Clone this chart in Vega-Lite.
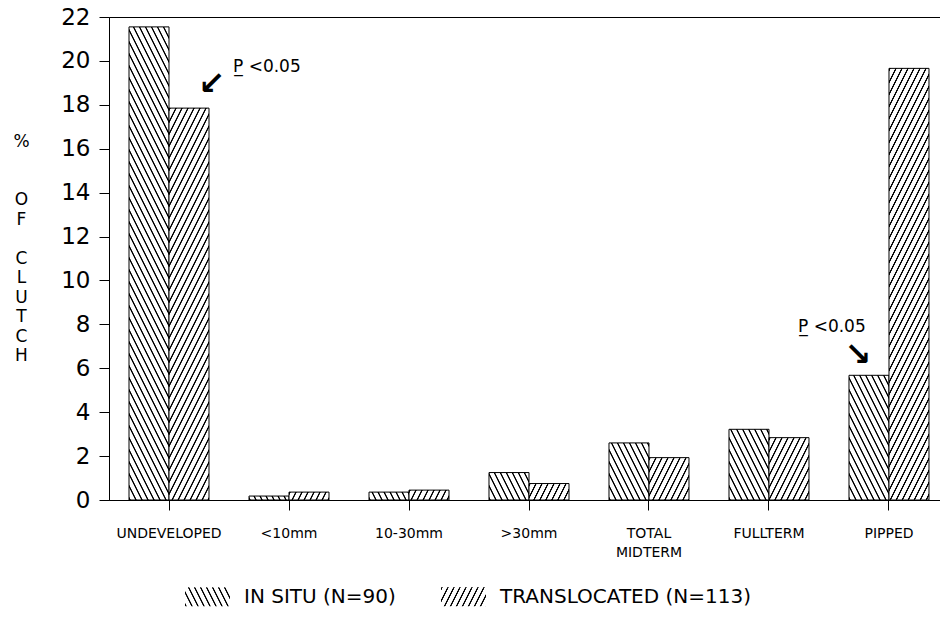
{
  "$schema": "https://vega.github.io/schema/vega-lite/v6.json",
  "width": 840,
  "height": 483,
  "autosize": "none",
  "padding": {"left": 109, "top": 17, "right": 0, "bottom": 124},
  "background": "white",
  "config": {
    "view": {"stroke": "black", "strokeWidth": 1},
    "font": "DejaVu Sans",
    "text": {"font": "DejaVu Sans", "color": "black"}
  },
  "params": [
    {
      "name": "hatch",
      "value": [
        {"offset":0,"color":"#fff"},{"offset":0.002,"color":"#000"},{"offset":0.005,"color":"#000"},{"offset":0.007,"color":"#fff"},
        {"offset":0.02,"color":"#fff"},{"offset":0.022,"color":"#000"},{"offset":0.025,"color":"#000"},{"offset":0.027,"color":"#fff"},
        {"offset":0.04,"color":"#fff"},{"offset":0.042,"color":"#000"},{"offset":0.045,"color":"#000"},{"offset":0.047,"color":"#fff"},
        {"offset":0.06,"color":"#fff"},{"offset":0.062,"color":"#000"},{"offset":0.065,"color":"#000"},{"offset":0.067,"color":"#fff"},
        {"offset":0.08,"color":"#fff"},{"offset":0.082,"color":"#000"},{"offset":0.085,"color":"#000"},{"offset":0.087,"color":"#fff"},
        {"offset":0.1,"color":"#fff"},{"offset":0.102,"color":"#000"},{"offset":0.105,"color":"#000"},{"offset":0.107,"color":"#fff"},
        {"offset":0.12,"color":"#fff"},{"offset":0.122,"color":"#000"},{"offset":0.125,"color":"#000"},{"offset":0.127,"color":"#fff"},
        {"offset":0.14,"color":"#fff"},{"offset":0.142,"color":"#000"},{"offset":0.145,"color":"#000"},{"offset":0.147,"color":"#fff"},
        {"offset":0.16,"color":"#fff"},{"offset":0.162,"color":"#000"},{"offset":0.165,"color":"#000"},{"offset":0.167,"color":"#fff"},
        {"offset":0.18,"color":"#fff"},{"offset":0.182,"color":"#000"},{"offset":0.185,"color":"#000"},{"offset":0.187,"color":"#fff"},
        {"offset":0.2,"color":"#fff"},{"offset":0.202,"color":"#000"},{"offset":0.205,"color":"#000"},{"offset":0.207,"color":"#fff"},
        {"offset":0.22,"color":"#fff"},{"offset":0.222,"color":"#000"},{"offset":0.225,"color":"#000"},{"offset":0.227,"color":"#fff"},
        {"offset":0.24,"color":"#fff"},{"offset":0.242,"color":"#000"},{"offset":0.245,"color":"#000"},{"offset":0.247,"color":"#fff"},
        {"offset":0.26,"color":"#fff"},{"offset":0.262,"color":"#000"},{"offset":0.265,"color":"#000"},{"offset":0.267,"color":"#fff"},
        {"offset":0.28,"color":"#fff"},{"offset":0.282,"color":"#000"},{"offset":0.285,"color":"#000"},{"offset":0.287,"color":"#fff"},
        {"offset":0.3,"color":"#fff"},{"offset":0.302,"color":"#000"},{"offset":0.305,"color":"#000"},{"offset":0.307,"color":"#fff"},
        {"offset":0.32,"color":"#fff"},{"offset":0.322,"color":"#000"},{"offset":0.325,"color":"#000"},{"offset":0.327,"color":"#fff"},
        {"offset":0.34,"color":"#fff"},{"offset":0.342,"color":"#000"},{"offset":0.345,"color":"#000"},{"offset":0.347,"color":"#fff"},
        {"offset":0.36,"color":"#fff"},{"offset":0.362,"color":"#000"},{"offset":0.365,"color":"#000"},{"offset":0.367,"color":"#fff"},
        {"offset":0.38,"color":"#fff"},{"offset":0.382,"color":"#000"},{"offset":0.385,"color":"#000"},{"offset":0.387,"color":"#fff"},
        {"offset":0.4,"color":"#fff"},{"offset":0.402,"color":"#000"},{"offset":0.405,"color":"#000"},{"offset":0.407,"color":"#fff"},
        {"offset":0.42,"color":"#fff"},{"offset":0.422,"color":"#000"},{"offset":0.425,"color":"#000"},{"offset":0.427,"color":"#fff"},
        {"offset":0.44,"color":"#fff"},{"offset":0.442,"color":"#000"},{"offset":0.445,"color":"#000"},{"offset":0.447,"color":"#fff"},
        {"offset":0.46,"color":"#fff"},{"offset":0.462,"color":"#000"},{"offset":0.465,"color":"#000"},{"offset":0.467,"color":"#fff"},
        {"offset":0.48,"color":"#fff"},{"offset":0.482,"color":"#000"},{"offset":0.485,"color":"#000"},{"offset":0.487,"color":"#fff"},
        {"offset":0.5,"color":"#fff"},{"offset":0.502,"color":"#000"},{"offset":0.505,"color":"#000"},{"offset":0.507,"color":"#fff"},
        {"offset":0.52,"color":"#fff"},{"offset":0.522,"color":"#000"},{"offset":0.525,"color":"#000"},{"offset":0.527,"color":"#fff"},
        {"offset":0.54,"color":"#fff"},{"offset":0.542,"color":"#000"},{"offset":0.545,"color":"#000"},{"offset":0.547,"color":"#fff"},
        {"offset":0.56,"color":"#fff"},{"offset":0.562,"color":"#000"},{"offset":0.565,"color":"#000"},{"offset":0.567,"color":"#fff"},
        {"offset":0.58,"color":"#fff"},{"offset":0.582,"color":"#000"},{"offset":0.585,"color":"#000"},{"offset":0.587,"color":"#fff"},
        {"offset":0.6,"color":"#fff"},{"offset":0.602,"color":"#000"},{"offset":0.605,"color":"#000"},{"offset":0.607,"color":"#fff"},
        {"offset":0.62,"color":"#fff"},{"offset":0.622,"color":"#000"},{"offset":0.625,"color":"#000"},{"offset":0.627,"color":"#fff"},
        {"offset":0.64,"color":"#fff"},{"offset":0.642,"color":"#000"},{"offset":0.645,"color":"#000"},{"offset":0.647,"color":"#fff"},
        {"offset":0.66,"color":"#fff"},{"offset":0.662,"color":"#000"},{"offset":0.665,"color":"#000"},{"offset":0.667,"color":"#fff"},
        {"offset":0.68,"color":"#fff"},{"offset":0.682,"color":"#000"},{"offset":0.685,"color":"#000"},{"offset":0.687,"color":"#fff"},
        {"offset":0.7,"color":"#fff"},{"offset":0.702,"color":"#000"},{"offset":0.705,"color":"#000"},{"offset":0.707,"color":"#fff"},
        {"offset":0.72,"color":"#fff"},{"offset":0.722,"color":"#000"},{"offset":0.725,"color":"#000"},{"offset":0.727,"color":"#fff"},
        {"offset":0.74,"color":"#fff"},{"offset":0.742,"color":"#000"},{"offset":0.745,"color":"#000"},{"offset":0.747,"color":"#fff"},
        {"offset":0.76,"color":"#fff"},{"offset":0.762,"color":"#000"},{"offset":0.765,"color":"#000"},{"offset":0.767,"color":"#fff"},
        {"offset":0.78,"color":"#fff"},{"offset":0.782,"color":"#000"},{"offset":0.785,"color":"#000"},{"offset":0.787,"color":"#fff"},
        {"offset":0.8,"color":"#fff"},{"offset":0.802,"color":"#000"},{"offset":0.805,"color":"#000"},{"offset":0.807,"color":"#fff"},
        {"offset":0.82,"color":"#fff"},{"offset":0.822,"color":"#000"},{"offset":0.825,"color":"#000"},{"offset":0.827,"color":"#fff"},
        {"offset":0.84,"color":"#fff"},{"offset":0.842,"color":"#000"},{"offset":0.845,"color":"#000"},{"offset":0.847,"color":"#fff"},
        {"offset":0.86,"color":"#fff"},{"offset":0.862,"color":"#000"},{"offset":0.865,"color":"#000"},{"offset":0.867,"color":"#fff"},
        {"offset":0.88,"color":"#fff"},{"offset":0.882,"color":"#000"},{"offset":0.885,"color":"#000"},{"offset":0.887,"color":"#fff"},
        {"offset":0.9,"color":"#fff"},{"offset":0.902,"color":"#000"},{"offset":0.905,"color":"#000"},{"offset":0.907,"color":"#fff"},
        {"offset":0.92,"color":"#fff"},{"offset":0.922,"color":"#000"},{"offset":0.925,"color":"#000"},{"offset":0.927,"color":"#fff"},
        {"offset":0.94,"color":"#fff"},{"offset":0.942,"color":"#000"},{"offset":0.945,"color":"#000"},{"offset":0.947,"color":"#fff"}
      ]
    }
  ],
  "layer": [
    {
      "data": {
        "values": [
          {"stage": "UNDEVELOPED", "series": "IN SITU (N=90)", "pct": 21.55},
          {"stage": "UNDEVELOPED", "series": "TRANSLOCATED (N=113)", "pct": 17.85},
          {"stage": "<10mm", "series": "IN SITU (N=90)", "pct": 0.18},
          {"stage": "<10mm", "series": "TRANSLOCATED (N=113)", "pct": 0.36},
          {"stage": "10-30mm", "series": "IN SITU (N=90)", "pct": 0.36},
          {"stage": "10-30mm", "series": "TRANSLOCATED (N=113)", "pct": 0.45},
          {"stage": ">30mm", "series": "IN SITU (N=90)", "pct": 1.25},
          {"stage": ">30mm", "series": "TRANSLOCATED (N=113)", "pct": 0.75},
          {"stage": "TOTAL MIDTERM", "series": "IN SITU (N=90)", "pct": 2.6},
          {"stage": "TOTAL MIDTERM", "series": "TRANSLOCATED (N=113)", "pct": 1.93},
          {"stage": "FULLTERM", "series": "IN SITU (N=90)", "pct": 3.22},
          {"stage": "FULLTERM", "series": "TRANSLOCATED (N=113)", "pct": 2.84},
          {"stage": "PIPPED", "series": "IN SITU (N=90)", "pct": 5.68},
          {"stage": "PIPPED", "series": "TRANSLOCATED (N=113)", "pct": 19.66}
        ]
      },
      "mark": {"type": "bar", "strokeWidth": 1},
      "encoding": {
        "x": {
          "field": "stage",
          "type": "nominal",
          "sort": ["UNDEVELOPED", "<10mm", "10-30mm", ">30mm", "TOTAL MIDTERM", "FULLTERM", "PIPPED"],
          "scale": {"paddingInner": 0.3333, "paddingOuter": 0.1667},
          "axis": {
            "title": null,
            "labelAngle": 0,
            "labelFont": "DejaVu Sans",
            "labelFontSize": 14,
            "labelColor": "black",
            "labelPadding": 16,
            "labelBaseline": "top",
            "labelLineHeight": 19,
            "labelExpr": "datum.value == 'TOTAL MIDTERM' ? ['TOTAL', 'MIDTERM'] : datum.value",
            "tickSize": 10,
            "tickColor": "black",
            "domainColor": "black",
            "grid": false
          }
        },
        "xOffset": {
          "field": "series",
          "type": "nominal",
          "sort": ["IN SITU (N=90)", "TRANSLOCATED (N=113)"],
          "scale": {"paddingInner": 0, "paddingOuter": 0}
        },
        "y": {
          "field": "pct",
          "type": "quantitative",
          "scale": {"domain": [0, 22], "nice": false},
          "axis": {
            "title": ["%", "\u2800", "\u2800", "O", "F", "\u2800", "C", "L", "U", "T", "C", "H"],
            "titleAngle": 0,
            "titleFont": "DejaVu Sans",
            "titleFontSize": 17,
            "titleFontWeight": "normal",
            "titleColor": "black",
            "titleLineHeight": 19.5,
            "titleAlign": "center",
            "titleBaseline": "middle",
            "titleX": -88,
            "titleY": 124,
            "values": [0, 2, 4, 6, 8, 10, 12, 14, 16, 18, 20, 22],
            "grid": false,
            "labelFont": "DejaVu Sans",
            "labelFontSize": 23,
            "labelColor": "black",
            "labelPadding": 9,
            "tickSize": 10,
            "tickColor": "black",
            "domainColor": "black"
          }
        },
        "stroke": {
          "field": "series",
          "type": "nominal",
          "sort": ["IN SITU (N=90)", "TRANSLOCATED (N=113)"],
          "scale": {"range": ["black", "black"]},
          "legend": {
            "orient": "none",
            "legendX": 76,
            "legendY": 557,
            "direction": "horizontal",
            "title": null,
            "padding": 0,
            "symbolType": "M-1,-0.42H1V0.42H-1Z",
            "symbolSize": 2025,
            "symbolStrokeWidth": 0,
            "labelFont": "DejaVu Sans",
            "labelFontSize": 20,
            "labelColor": "black",
            "labelLimit": 400,
            "labelOffset": 14,
            "columnPadding": 45
          }
        },
        "fill": {
          "value": {
            "expr": "datum.series ? {gradient: 'linear', x1: 0, y1: datum.series == 'IN SITU (N=90)' ? 1 : 0, x2: 1200 * bandwidth('xOffset') / (4 * bandwidth('xOffset') * bandwidth('xOffset') + pow(scale('y', 0) - scale('y', datum.pct), 2)), y2: datum.series == 'IN SITU (N=90)' ? 1 - 600 * (scale('y', 0) - scale('y', datum.pct)) / (4 * bandwidth('xOffset') * bandwidth('xOffset') + pow(scale('y', 0) - scale('y', datum.pct), 2)) : 600 * (scale('y', 0) - scale('y', datum.pct)) / (4 * bandwidth('xOffset') * bandwidth('xOffset') + pow(scale('y', 0) - scale('y', datum.pct), 2)), stops: hatch} : datum.value == 'IN SITU (N=90)' ? {gradient: 'linear', x1: 0, y1: 1, x2: 6.38, y2: -0.347, stops: hatch} : {gradient: 'linear', x1: 0, y1: 0, x2: 6.38, y2: 1.347, stops: hatch}"
          }
        }
      }
    },
    {
      "data": {"values": [{"stage": "UNDEVELOPED", "pct": 19.72, "note": "P̲ <0.05"}]},
      "mark": {"type": "text", "align": "left", "baseline": "middle", "dx": 64, "fontSize": 17, "font": "DejaVu Sans", "color": "black"},
      "encoding": {
        "x": {"field": "stage", "type": "nominal", "sort": ["UNDEVELOPED", "<10mm", "10-30mm", ">30mm", "TOTAL MIDTERM", "FULLTERM", "PIPPED"]},
        "y": {"field": "pct", "type": "quantitative"},
        "text": {"field": "note"}
      }
    },
    {
      "data": {"values": [{"stage": "UNDEVELOPED", "pct": 18.95, "note": "↙"}]},
      "mark": {"type": "text", "align": "center", "baseline": "middle", "dx": 43, "fontSize": 32, "fontWeight": "bold", "font": "DejaVu Sans", "color": "black"},
      "encoding": {
        "x": {"field": "stage", "type": "nominal", "sort": ["UNDEVELOPED", "<10mm", "10-30mm", ">30mm", "TOTAL MIDTERM", "FULLTERM", "PIPPED"]},
        "y": {"field": "pct", "type": "quantitative"},
        "text": {"field": "note"}
      }
    },
    {
      "data": {"values": [{"stage": "PIPPED", "pct": 7.88, "note": "P̲ <0.05"}]},
      "mark": {"type": "text", "align": "left", "baseline": "middle", "dx": -91, "fontSize": 17, "font": "DejaVu Sans", "color": "black"},
      "encoding": {
        "x": {"field": "stage", "type": "nominal", "sort": ["UNDEVELOPED", "<10mm", "10-30mm", ">30mm", "TOTAL MIDTERM", "FULLTERM", "PIPPED"]},
        "y": {"field": "pct", "type": "quantitative"},
        "text": {"field": "note"}
      }
    },
    {
      "data": {"values": [{"stage": "PIPPED", "pct": 6.6, "note": "↘"}]},
      "mark": {"type": "text", "align": "center", "baseline": "middle", "dx": -31, "fontSize": 32, "fontWeight": "bold", "font": "DejaVu Sans", "color": "black"},
      "encoding": {
        "x": {"field": "stage", "type": "nominal", "sort": ["UNDEVELOPED", "<10mm", "10-30mm", ">30mm", "TOTAL MIDTERM", "FULLTERM", "PIPPED"]},
        "y": {"field": "pct", "type": "quantitative"},
        "text": {"field": "note"}
      }
    }
  ]
}
